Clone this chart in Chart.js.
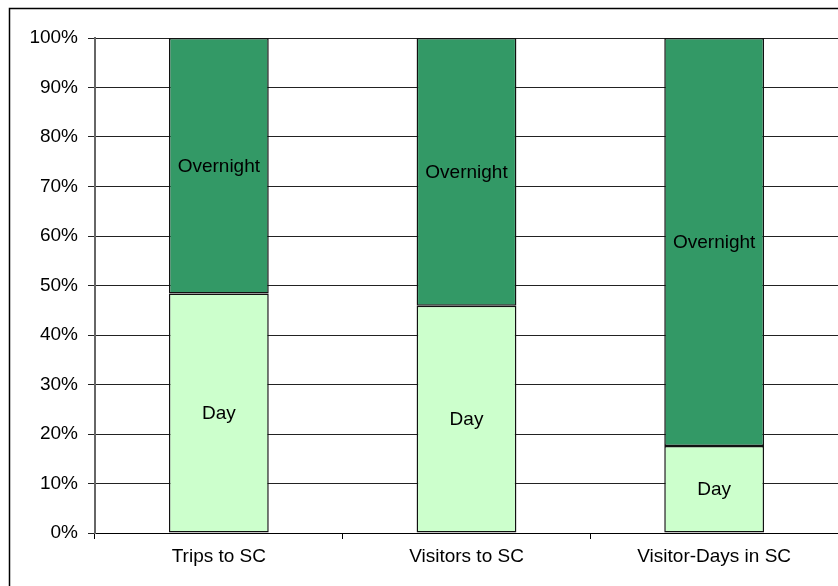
<!DOCTYPE html>
<html>
<head>
<meta charset="utf-8">
<script src="https://cdn.jsdelivr.net/npm/chart.js@4"></script>
<style>
  html, body { margin: 0; padding: 0; background: #fff; }
  #wrap { width: 838px; height: 586px; }
</style>
</head>
<body>
<div id="wrap"><canvas id="myChart" width="838" height="586"></canvas></div>
<script>
// categories and shares (percent of total)
const categories = ['Trips to SC', 'Visitors to SC', 'Visitor-Days in SC'];
const dayShare = [48.4, 45.9, 17.6];
const overnightShare = [51.6, 54.1, 82.4];
const seriesNames = ['Day', 'Overnight'];

Chart.defaults.font.family = "'Liberation Sans', Arial, sans-serif";
Chart.defaults.font.size = 19;
Chart.defaults.color = '#000';

// white bg + outer frame (left + top edges visible)
const framePlugin = {
  id: 'frame',
  beforeDraw(chart) {
    const c = chart.ctx;
    c.save();
    c.fillStyle = '#fff';
    c.fillRect(0, 0, chart.width, chart.height);
    c.strokeStyle = '#000';
    c.lineWidth = 1.5;
    c.beginPath();
    c.moveTo(9.5, chart.height + 2);
    c.lineTo(9.5, 8.5);
    c.lineTo(chart.width + 2, 8.5);
    c.stroke();
    c.restore();
  },
};

// series name in the middle of each segment
const segLabels = {
  id: 'segLabels',
  afterDatasetsDraw(chart) {
    const c = chart.ctx;
    c.save();
    c.font = "19px 'Liberation Sans', Arial, sans-serif";
    c.fillStyle = '#000';
    c.textAlign = 'center';
    c.textBaseline = 'middle';
    chart.data.datasets.forEach((ds, i) => {
      chart.getDatasetMeta(i).data.forEach((bar) => {
        c.fillText(ds.label, bar.x, (bar.y + bar.base) / 2 + 1);
      });
    });
    c.restore();
  },
};

const ctx = document.getElementById('myChart');
let chart = new Chart(ctx, {
  type: 'bar',
  data: {
    labels: categories,
    datasets: [
      {
        label: seriesNames[0],
        data: dayShare,
        backgroundColor: '#ccffcc',
        borderColor: '#111',
        borderWidth: 1.5,
        borderSkipped: false,
      },
      {
        label: seriesNames[1],
        data: overnightShare,
        backgroundColor: '#339966',
        borderColor: '#111',
        borderWidth: 1.5,
        borderSkipped: false,
      },
    ],
  },
  options: {
    responsive: false,
    animation: false,
    devicePixelRatio: 1,
    // bar is ~100px of a 248px category
    categoryPercentage: 0.403,
    barPercentage: 1,
    layout: {
      padding: { top: 38, left: 0, right: 0, bottom: 0 },
    },
    plugins: {
      legend: { display: false },
      tooltip: { enabled: false },
    },
    scales: {
      x: {
        stacked: true,
        grid: {
          drawOnChartArea: false,
          drawTicks: true,
          tickLength: 6,
          color: '#000',
        },
        border: { color: '#000', width: 1 },
        ticks: { padding: 6, color: '#000' },
        afterFit: (scale) => { scale.height = 53; },
      },
      y: {
        stacked: true,
        min: 0,
        max: 100,
        ticks: {
          stepSize: 10,
          padding: 10,
          color: '#000',
          callback: (v) => v + '%',
        },
        grid: {
          color: '#222',
          lineWidth: 1,
          tickLength: 7,
        },
        border: { color: '#666', width: 2 },
        afterFit: (scale) => { scale.width = 95; },
      },
    },
  },
  plugins: [framePlugin, segLabels],
});
</script>
</body>
</html>
